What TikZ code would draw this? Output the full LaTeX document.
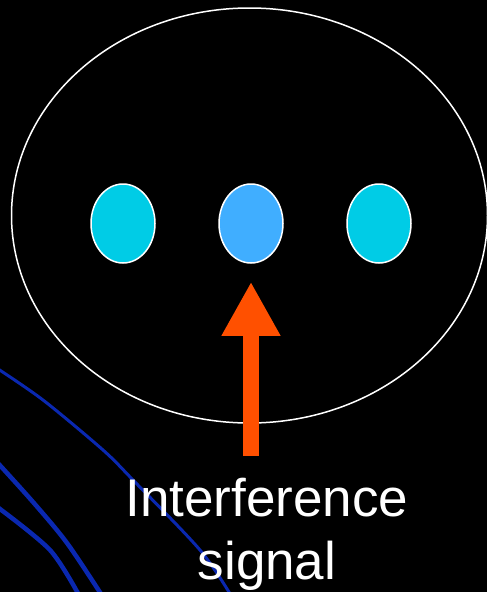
\documentclass[tikz,border=0pt]{standalone}
\usepackage{fontspec}
\setmainfont{Liberation Sans}
\usetikzlibrary{arrows.meta,shapes.geometric}
\definecolor{dotcyan}{HTML}{00CCE6}
\definecolor{dotblue}{HTML}{40AEFF}
\definecolor{sigorange}{HTML}{FF5000}
\definecolor{waveblue}{HTML}{0A28B0}

\tikzset{
  dot/.style={ellipse, draw=white, line width=1.5pt, inner sep=0pt,
              minimum width=64pt, minimum height=79pt},
  wave/.style={waveblue, line width=4.5pt},
}

\begin{document}
\begin{tikzpicture}[x=1pt,y=-1pt]
    \fill[black] (0,0) rectangle (487,592);
    \useasboundingbox (0,0) rectangle (487,592);

    % waves coming in from the lower left
    \draw[wave, line width=3pt] plot[smooth] coordinates
      {(-5,367) (43,400) (103,450) (133,480) (200,550) (232,597)};
    \draw[wave] plot[smooth] coordinates
      {(-4,461) (33,502) (67,543) (103,597)};
    \draw[wave] plot[smooth] coordinates
      {(-4,506) (50,550) (80,597)};

    % the cell and its three elements
    \node[ellipse, draw=white, line width=1.5pt, inner sep=0pt,
          minimum width=476pt, minimum height=415pt] (cell) at (249.5,215.5) {};
    \node[dot, fill=dotcyan] (left)  at (123,223.5) {};
    \node[dot, fill=dotblue] (mid)   at (251,223.5) {};
    \node[dot, fill=dotcyan] (right) at (379,223.5) {};

    % interference arrow
    \coordinate (tail) at (251,456);
    \draw[sigorange, line width=16pt, -{Triangle[width=55pt,length=54pt]}]
      (tail) -- ([yshift=-18pt]mid.south);

    \node[text=white, font=\fontsize{53}{63}\selectfont, align=center,
          inner sep=0pt, anchor=north] (sig) at (267,478) {Interference\\signal};
\end{tikzpicture}
\end{document}
